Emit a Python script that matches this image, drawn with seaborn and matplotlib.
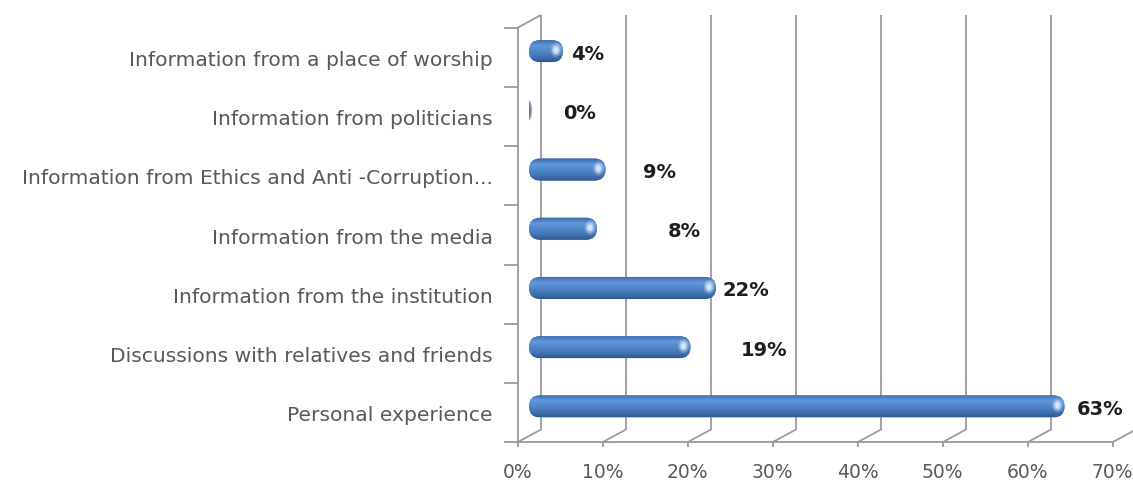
import numpy as np
import pandas as pd
import matplotlib
matplotlib.use("Agg")
import matplotlib.pyplot as plt
import matplotlib.transforms as mtrans
from matplotlib.patches import FancyBboxPatch, Ellipse
from matplotlib.colors import LinearSegmentedColormap
import seaborn as sns

# ---- data -------------------------------------------------------------
sources = [
    "Information from a place of worship",
    "Information from politicians",
    "Information from Ethics and Anti -Corruption...",
    "Information from the media",
    "Information from the institution",
    "Discussions with relatives and friends",
    "Personal experience",
]
shares = [0.04, 0.00, 0.09, 0.08, 0.22, 0.19, 0.63]
x_ticks = [0.0, 0.1, 0.2, 0.3, 0.4, 0.5, 0.6, 0.7]
x_tick_labels = ["0%", "10%", "20%", "30%", "40%", "50%", "60%", "70%"]

# horizontal nudge (pixels) of each value label away from its bar end
label_nudge_px = [8, 34, 37, 71, 6, 50, 12]

# ---- figure -----------------------------------------------------------
W, H, DPI = 1133, 487, 100
sns.set_theme(style="white")
plt.rcParams["font.family"] = ["DejaVu Sans"]

fig = plt.figure(figsize=(W / DPI, H / DPI), dpi=DPI)
# axes = middle depth plane of the pseudo-3D box
ax = fig.add_axes([529 / W, (H - 436) / H, 595 / W, 414.5 / H])

df = pd.DataFrame({"source": sources, "share": shares})
BAR_H = 22 / 59.2
sns.barplot(data=df, y="source", x="share", orient="h", width=BAR_H,
            color="#4F81BD", ax=ax, saturation=1)

ax.set_xlim(0, 0.7)
ax.set_ylim(6.5, -0.5)
ax.set_axis_off()

px_x = 0.7 / 595          # data units per pixel (x)
px_y = 7.0 / 414.5        # data units per pixel (y)

front = ax.transData + mtrans.ScaledTranslation(-11.5 / DPI, -6.25 / DPI, fig.dpi_scale_trans)
back = ax.transData + mtrans.ScaledTranslation(11.5 / DPI, 6.25 / DPI, fig.dpi_scale_trans)

GRID = "#9a9a9a"
grid_kw = dict(color=GRID, lw=1.3, clip_on=False, solid_capstyle="butt", zorder=1)
depth_kw = dict(arrowstyle="-", color=GRID, lw=1.3, shrinkA=0, shrinkB=0)

# back wall vertical gridlines
for v in x_ticks:
    ax.plot([v, v], [6.5, -0.5], transform=back, **grid_kw)
# floor: front edge, depth lines, ticks and tick labels
ax.plot([0, 0.7], [6.5, 6.5], transform=front, **grid_kw)
for v, lab in zip(x_ticks, x_tick_labels):
    ax.annotate("", xy=(v, 6.5), xycoords=back, xytext=(v, 6.5), textcoords=front,
                arrowprops=depth_kw, annotation_clip=False, zorder=1)
    ax.plot([v, v], [6.5, 6.5 + 5 * px_y], transform=front, **grid_kw)
    ax.text(v, 6.5 + 30 * px_y, lab, transform=front,
            ha="center", va="center", fontsize=13.5, color="#595959")
# left wall
ax.plot([0, 0], [-0.5, 6.5], transform=front, **grid_kw)
ax.annotate("", xy=(0, -0.5), xycoords=back, xytext=(0, -0.5), textcoords=front,
            arrowprops=depth_kw, annotation_clip=False, zorder=1)
for k in range(8):
    b = k - 0.5
    ax.plot([-14 * px_x, 0], [b, b], transform=front, **grid_kw)

# category labels on the front-left wall
for i, name in enumerate(sources):
    ax.text(-25 * px_x, i + 3 * px_y, name, transform=front, ha="right", va="center",
            fontsize=14.6, color="#595959")

# ---- cylinder-style bars ---------------------------------------------
shade = LinearSegmentedColormap.from_list(
    "cyl", [(0.0, "#3a68a8"), (0.28, "#6198da"), (0.55, "#4f85c8"),
            (0.85, "#3c6cab"), (1.0, "#2b5890")])
grad = np.linspace(0, 1, 64).reshape(-1, 1)
r_px = 11
aspect = px_y / px_x

for patch, val in zip(list(ax.patches), shares):
    x0, y0 = patch.get_x(), patch.get_y()
    w, h = patch.get_width(), patch.get_height()
    patch.remove()
    if w < 2 * r_px * px_x:
        # a zero-length cylinder shows only its end face
        e = Ellipse((x0 - 1 * px_x, y0 + h / 2), 7 * px_x, 20 * px_y,
                    facecolor="#6279a3", edgecolor="#a3b3cc", lw=1.0, zorder=3)
        ax.add_patch(e)
        continue
    cap = FancyBboxPatch((x0, y0), w, h,
                         boxstyle=f"round,pad=0,rounding_size={r_px * px_x}",
                         mutation_aspect=aspect, facecolor="#4F81BD",
                         edgecolor="none", zorder=3)
    ax.add_patch(cap)
    im = ax.imshow(grad, cmap=shade, extent=[x0, x0 + w, y0 + h, y0],
                   aspect="auto", zorder=4, interpolation="bilinear")
    im.set_clip_path(cap)
    # specular spot near the rounded end
    cx, cy = x0 + w - 7 * px_x, y0 + h * 0.45
    for s, a in [(11, 0.22), (8, 0.4), (5, 0.75)]:
        ax.add_patch(Ellipse((cx, cy), s * px_x, s * 1.3 * px_y, facecolor="#e4f1ff",
                             edgecolor="none", alpha=a, zorder=5))

ax.set_xlim(0, 0.7)
ax.set_ylim(6.5, -0.5)

# value labels
for i, (val, nudge) in enumerate(zip(shares, label_nudge_px)):
    ax.text(val + nudge * px_x, i + 3 * px_y, f"{val * 100:.0f}%", ha="left", va="center",
            fontsize=14, fontweight="bold", color="#1e1e1e", zorder=6)

fig.savefig("out.png", dpi=DPI, facecolor="white")
